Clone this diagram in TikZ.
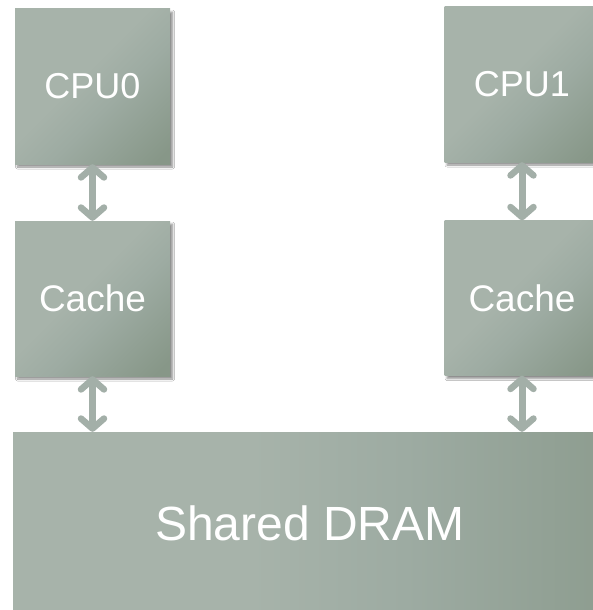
\documentclass[tikz,border=0pt]{standalone}
\usepackage{fontspec}
\setmainfont{Liberation Sans}
\usetikzlibrary{arrows.meta,shadows.blur}
\definecolor{boxlight}{HTML}{A7B3AA}
\definecolor{boxmid}{HTML}{9DABA2}
\definecolor{boxdark}{HTML}{879788}
\definecolor{linkcol}{HTML}{A3AFA8}
% light on the left half, darkening towards the far edge
\pgfdeclarehorizontalshading{panel}{100bp}{color(0bp)=(boxlight); color(45bp)=(boxlight);
  color(58bp)=(boxmid); color(82bp)=(boxdark); color(100bp)=(boxdark)}
\tikzset{
  unit/.style={rectangle, inner sep=0pt, text=white, shading=panel, shading angle=-45,
    blur shadow={shadow xshift=2.5pt, shadow yshift=-3pt, shadow opacity=45, shadow blur steps=6, shadow blur radius=2pt}},
  smallbox/.style={unit, minimum width=155pt, minimum height=155pt, font=\fontsize{36}{42}\selectfont},
  barb/.tip={Straight Barb[length=10pt, width=23pt, line width=6.5pt, round]},
  link/.style={draw=linkcol, line width=7pt, {barb}-{barb}}
}
\begin{document}
\begin{tikzpicture}[x=1pt, y=-1pt]
  \useasboundingbox (0,0) rectangle (593,610);
  \clip (0,0) rectangle (593,610);
  \fill[white] (0,0) rectangle (593,610);
  % processors
  \node[smallbox] (cpu0) at (92.5,86.5) {CPU0};
  \node[smallbox] (cpu1) at (522,84.5) {CPU1};
  % caches
  \node[smallbox, font=\fontsize{37}{44}\selectfont] (cache0) at (92.5,298.5) {Cache};
  \node[smallbox, font=\fontsize{37}{44}\selectfont] (cache1) at (522,298) {Cache};
  % shared memory
  \node[unit, minimum width=594pt, minimum height=182pt, font=\fontsize{48}{56}\selectfont,
        shading angle=0]
        (dram) at (310,523) {Shared DRAM};
  % links
  \draw[link] (cpu0.south) -- (cache0.north);
  \draw[link] (cpu1.south) -- (cache1.north);
  \draw[link] (cache0.south) -- (cache0.south |- dram.north);
  \draw[link] (cache1.south) -- (cache1.south |- dram.north);
\end{tikzpicture}
\end{document}
